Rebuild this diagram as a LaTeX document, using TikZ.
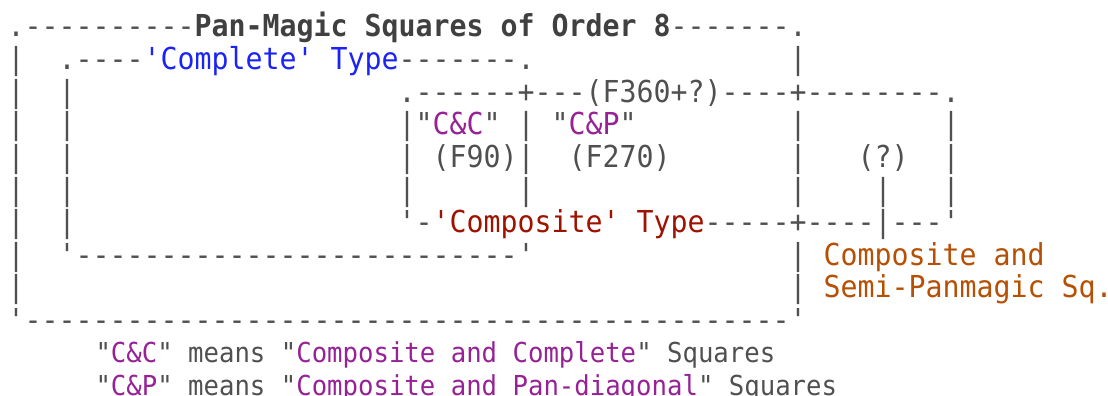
\documentclass[tikz,border=0pt]{standalone}
\usepackage{fontspec}
\setmonofont{DejaVu Sans Mono}
\definecolor{linegray}{RGB}{80,80,80}
\definecolor{titlegray}{RGB}{64,64,64}
\definecolor{cblue}{RGB}{28,36,245}
\definecolor{cred}{RGB}{158,18,0}
\definecolor{corange}{RGB}{182,80,4}
\definecolor{cpurple}{RGB}{150,34,150}
\newcommand{\topfont}{\ttfamily\fontsize{28.24pt}{32pt}\selectfont}
\newcommand{\botfont}{\ttfamily\fontsize{25.66pt}{32pt}\selectfont}
\newcommand{\tallbox}[1]{\scalebox{1}[1.07]{#1}}
\tikzset{
  seg/.style={anchor=base west, inner sep=0pt, outer sep=0pt, font=\topfont, text=linegray},
  bseg/.style={anchor=base west, inner sep=0pt, outer sep=0pt, font=\botfont, text=linegray},
  titletext/.style={text=titlegray, font=\topfont\bfseries},
  bluetext/.style={text=cblue},
  redtext/.style={text=cred},
  orangetext/.style={text=corange},
  purpletext/.style={text=cpurple}
}
% name, column, row, style, text
\newcommand{\seg}[5]{\node[seg,#4] (#1) at ({7.5pt+17pt*#2},{-37pt-32.6pt*#3}) {\tallbox{#5}};}
\newcommand{\bseg}[5]{\node[bseg,#4] (#1) at ({95.5pt+15.45pt*#2},{-362.5pt-33pt*#3}) {\tallbox{#5}};}
\begin{document}
\begin{tikzpicture}
\useasboundingbox (0pt,0pt) rectangle (1108pt,-396pt);
% row 0
\seg{r0a}{0}{0}{}{.----------}
\seg{r0b}{11}{0}{titletext}{Pan-Magic Squares of Order 8}
\seg{r0c}{39}{0}{}{-------.}
% row 1
\seg{r1a}{0}{1}{}{|}
\seg{r1b}{3}{1}{}{.----}
\seg{r1c}{8}{1}{bluetext}{'Complete' Type}
\seg{r1d}{23}{1}{}{-------.}
\seg{r1e}{46}{1}{}{|}
% row 2
\seg{r2a}{0}{2}{}{|}
\seg{r2b}{3}{2}{}{|}
\seg{r2c}{23}{2}{}{.------+---(F360+?)----+--------.}
% row 3
\seg{r3a}{0}{3}{}{|}
\seg{r3b}{3}{3}{}{|}
\seg{r3c}{23}{3}{}{|"}
\seg{r3d}{25}{3}{purpletext}{C\&C}
\seg{r3e}{28}{3}{}{" | "}
\seg{r3f}{33}{3}{purpletext}{C\&P}
\seg{r3g}{36}{3}{}{"}
\seg{r3h}{46}{3}{}{|}
\seg{r3i}{55}{3}{}{|}
% row 4
\seg{r4a}{0}{4}{}{|}
\seg{r4b}{3}{4}{}{|}
\seg{r4c}{23}{4}{}{|}
\seg{r4d}{25}{4}{}{(F90)|}
\seg{r4e}{33}{4}{}{(F270)}
\seg{r4f}{46}{4}{}{|}
\seg{r4g}{50}{4}{}{(?)}
\seg{r4h}{55}{4}{}{|}
% row 5
\seg{r5a}{0}{5}{}{|}
\seg{r5b}{3}{5}{}{|}
\seg{r5c}{23}{5}{}{|}
\seg{r5d}{30}{5}{}{|}
\seg{r5e}{46}{5}{}{|}
\seg{r5f}{51}{5}{}{|}
\seg{r5g}{55}{5}{}{|}
% row 6
\seg{r6a}{0}{6}{}{|}
\seg{r6b}{3}{6}{}{|}
\seg{r6c}{23}{6}{}{'-}
\seg{r6d}{25}{6}{redtext}{'Composite' Type}
\seg{r6e}{41}{6}{}{-----+----|---'}
% row 7
\seg{r7a}{0}{7}{}{|}
\seg{r7b}{3}{7}{}{'--------------------------'}
\seg{r7c}{46}{7}{}{|}
\seg{r7d}{48}{7}{orangetext}{Composite and}
% row 8
\seg{r8a}{0}{8}{}{|}
\seg{r8b}{46}{8}{}{|}
\seg{r8c}{48}{8}{orangetext}{Semi-Panmagic Sq.}
% row 9
\seg{r9a}{0}{9}{}{'---------------------------------------------'}
% legend
\bseg{l1a}{0}{0}{}{"}
\bseg{l1b}{1}{0}{purpletext}{C\&C}
\bseg{l1c}{4}{0}{}{" means "}
\bseg{l1d}{13}{0}{purpletext}{Composite and Complete}
\bseg{l1e}{35}{0}{}{" Squares}
\bseg{l2a}{0}{1}{}{"}
\bseg{l2b}{1}{1}{purpletext}{C\&P}
\bseg{l2c}{4}{1}{}{" means "}
\bseg{l2d}{13}{1}{purpletext}{Composite and Pan-diagonal}
\bseg{l2e}{39}{1}{}{" Squares}
\end{tikzpicture}
\end{document}
